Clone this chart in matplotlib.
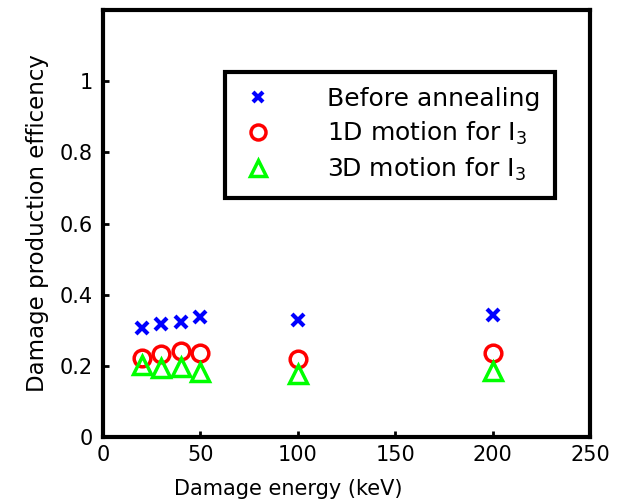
import matplotlib
matplotlib.use('Agg')
from matplotlib import pyplot as plt

plt.rcParams['font.family'] = ['DejaVu Sans']

# damage energy (keV)
energy = [20, 30, 40, 50, 100, 200]
before_annealing = [0.305, 0.318, 0.322, 0.338, 0.330, 0.342]
motion_1d = [0.221, 0.233, 0.242, 0.237, 0.220, 0.235]
motion_3d = [0.203, 0.195, 0.197, 0.183, 0.178, 0.186]

fig = plt.figure(figsize=(6.27, 5.04), dpi=100)
ax = fig.add_axes([0.164, 0.133, 0.777, 0.847])

ax.plot(energy, before_annealing, 'x', color='#0000ff', ms=8, mew=3,
        linestyle='none', label='Before annealing')
ax.plot(energy, motion_1d, 'o', mfc='none', mec='#ff0000', ms=12, mew=2.5,
        linestyle='none', label='1D motion for I$_3$')
ax.plot(energy, motion_3d, '^', mfc='none', mec='#00ff00', ms=13, mew=2.5,
        linestyle='none', label='3D motion for I$_3$')

ax.set_xlim(0, 250)
ax.set_ylim(0, 1.2)
ax.set_xticks([0, 50, 100, 150, 200, 250])
ax.set_yticks([0, 0.2, 0.4, 0.6, 0.8, 1])
ax.set_yticklabels(['0', '0.2', '0.4', '0.6', '0.8', '1'])
ax.tick_params(direction='in', length=4, width=2, labelsize=15)
ax.tick_params(axis='x', pad=6)
ax.tick_params(axis='y', pad=7)
for s in ax.spines.values():
    s.set_linewidth(3)

# label sits left of centre in the original
ax.set_xlabel('Damage energy (keV)', fontsize=15, labelpad=10, x=0.38)
ax.set_ylabel('Damage production efficency', fontsize=16.5, labelpad=8)

leg = ax.legend(loc='upper right', bbox_to_anchor=(0.928, 0.855), fontsize=18,
                frameon=True, fancybox=False, edgecolor='black', framealpha=1,
                borderpad=0.6, labelspacing=0.36, handletextpad=2.05,
                handlelength=1.4, borderaxespad=0, markerscale=0.9)
leg.get_frame().set_linewidth(3)

plt.savefig('out.png', dpi=100)
